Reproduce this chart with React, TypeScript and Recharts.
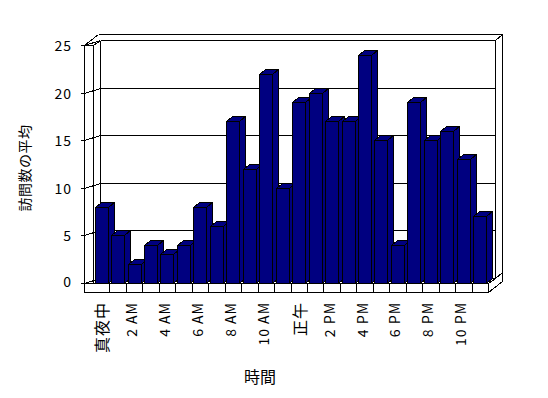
import { BarChart, Bar, XAxis, YAxis, CartesianGrid } from 'recharts';

const hours = [
  '真夜中', '1 AM', '2 AM', '3 AM', '4 AM', '5 AM', '6 AM', '7 AM', '8 AM', '9 AM', '10 AM', '11 AM',
  '正午', '1 PM', '2 PM', '3 PM', '4 PM', '5 PM', '6 PM', '7 PM', '8 PM', '9 PM', '10 PM', '11 PM',
];
const visits = [8, 5, 2, 4, 3, 4, 8, 6, 17, 12, 22, 10, 19, 20, 17, 17, 24, 15, 4, 19, 15, 16, 13, 7];
const yTicks = [0, 5, 10, 15, 20, 25];

const data = hours.map((hour, i) => ({ hour, visits: visits[i] }));

// layout of the front plane of the 3d box
const W = 548;
const H = 398;
const LEFT = 93;
const RIGHT = 488;
const TOP = 45;
const BOTTOM = 283;
const DEPTH = { x: 7, y: -5 }; // front plane -> back wall
const WALL = { x: 7, y: -6 }; // back wall thickness
const BAR_DEPTH = { x: 6, y: -5 };
const SLAB = 9; // side wall / floor thickness

const NAVY = '#000080';
const FONT = '"Noto Sans CJK JP", "Noto Sans", sans-serif';

const px = (v: number) => Math.round(v) + 0.5;

const Frame = () => {
  const l = px(LEFT), r = px(RIGHT), t = px(TOP), b = px(BOTTOM);
  const sl = l - SLAB, fb = b + SLAB;
  const bl = l + DEPTH.x, br = r + DEPTH.x, bt = t + DEPTH.y, bb = b + DEPTH.y;
  const ot = bt + WALL.y, or = br + WALL.x;
  return (
    <g stroke="#000" fill="none" shapeRendering="crispEdges">
      {/* floor front face */}
      <rect x={sl} y={b} width={r - sl} height={SLAB} fill="#fff" />
      {/* side wall front face */}
      <line x1={sl} y1={t} x2={sl} y2={fb} />
      <line x1={l} y1={t} x2={l} y2={b} />
      <line x1={sl} y1={t} x2={l} y2={t} />
      <line x1={sl} y1={t} x2={bl - 2} y2={ot} />
      <line x1={l} y1={t} x2={bl} y2={bt} />
      {/* back wall */}
      <line x1={bl} y1={bt} x2={bl} y2={bb} />
      <line x1={bl} y1={bt} x2={br} y2={bt} />
      <line x1={br} y1={bt} x2={br} y2={bb} />
      <line x1={bl - 2} y1={ot} x2={or} y2={ot} />
      <line x1={br} y1={bt} x2={or} y2={ot} />
      <line x1={or} y1={ot} x2={or} y2={fb + WALL.y * 2 + 1} />
      {/* floor right end */}
      <line x1={r} y1={b} x2={br} y2={bb} />
      <line x1={br} y1={bb} x2={or} y2={bb + WALL.y} />
      <line x1={r} y1={fb} x2={or} y2={fb + WALL.y * 2 + 1} />
    </g>
  );
};

const GridLine = (p: any) => {
  const y = px(p.y1);
  const x1 = px(p.x1) + DEPTH.x;
  const x2 = px(p.x2) + DEPTH.x;
  const by = y + DEPTH.y;
  return (
    <g key={p.key} stroke="#000" shapeRendering="crispEdges">
      {p.index === 0 && <Frame />}
      <line x1={px(p.x1) - SLAB - 4} y1={y} x2={px(p.x1) - SLAB} y2={y} />
      <line x1={px(p.x1) - SLAB} y1={y} x2={x1} y2={by} />
      <line x1={x1} y1={by} x2={x2} y2={by} />
    </g>
  );
};

const Bar3D = (p: any) => {
  const { x, y, width, height } = p;
  const l = px(x), r = px(x + width), t = px(y), b = px(y + height);
  const dx = BAR_DEPTH.x, dy = BAR_DEPTH.y;
  return (
    <g stroke="#000" fill={NAVY} shapeRendering="crispEdges">
      <polygon points={`${l},${t} ${r},${t} ${r + dx},${t + dy} ${l + dx},${t + dy}`} />
      <polygon points={`${r},${t} ${r + dx},${t + dy} ${r + dx},${b + dy} ${r},${b}`} />
      <rect x={l} y={t} width={r - l} height={b - t} />
    </g>
  );
};

const HourTick = (p: any) => {
  const i = p.payload?.index ?? p.index;
  const cx = p.payload?.coordinate ?? p.x;
  const band = (RIGHT - LEFT) / hours.length;
  const edge = px(cx + band / 2);
  const label = hours[i];
  const jp = /[^\x00-\x7f]/.test(label);
  return (
    <g>
      <line x1={edge} y1={px(BOTTOM)} x2={edge} y2={px(BOTTOM) + SLAB} stroke="#000" shapeRendering="crispEdges" />
      {i % 2 === 0 && (
        <text
          transform={`translate(${cx - (jp ? 0 : 3)}, 302) rotate(-90)`}
          textAnchor="end"
          dominantBaseline="central"
          fontFamily={FONT}
          fontSize={jp ? 16 : 14}
          letterSpacing={1}
          fill="#000"
        >
          {label}
        </text>
      )}
    </g>
  );
};

const ValueTick = (p: any) => (
  <text
    x={72}
    y={p.y - (p.payload.value === 0 ? 2 : 0)}
    textAnchor="end"
    dominantBaseline="central"
    fontFamily={FONT}
    fontSize={14}
    letterSpacing={1}
    fill="#000"
  >
    {p.payload.value}
  </text>
);

const YTitle = () => (
  <text
    transform="translate(24, 168) rotate(-90)"
    textAnchor="middle"
    dominantBaseline="central"
    fontFamily={FONT}
    fontSize={14}
    letterSpacing={0.5}
    fill="#000"
  >
    訪問数の平均
  </text>
);

const XTitle = () => (
  <text x={260} y={376} textAnchor="middle" dominantBaseline="central" fontFamily={FONT} fontSize={16} fill="#000">
    時間
  </text>
);

export default function App() {
  return (
    <div style={{ position: 'absolute', left: 0, top: 0, background: '#fff' }}>
      <BarChart
        width={W}
        height={H}
        data={data}
        margin={{ top: TOP, right: W - RIGHT, bottom: 0, left: 0 }}
        barCategoryGap="10%"
      >
        <CartesianGrid vertical={false} horizontal={GridLine} />
        <XAxis
          dataKey="hour"
          interval={0}
          height={H - BOTTOM}
          axisLine={false}
          tickLine={false}
          tick={HourTick}
          label={XTitle}
        />
        <YAxis
          domain={[0, 25]}
          ticks={yTicks}
          interval={0}
          width={LEFT}
          axisLine={false}
          tickLine={false}
          tick={ValueTick}
          label={YTitle}
        />
        <Bar dataKey="visits" shape={Bar3D} isAnimationActive={false} />
      </BarChart>
    </div>
  );
}
